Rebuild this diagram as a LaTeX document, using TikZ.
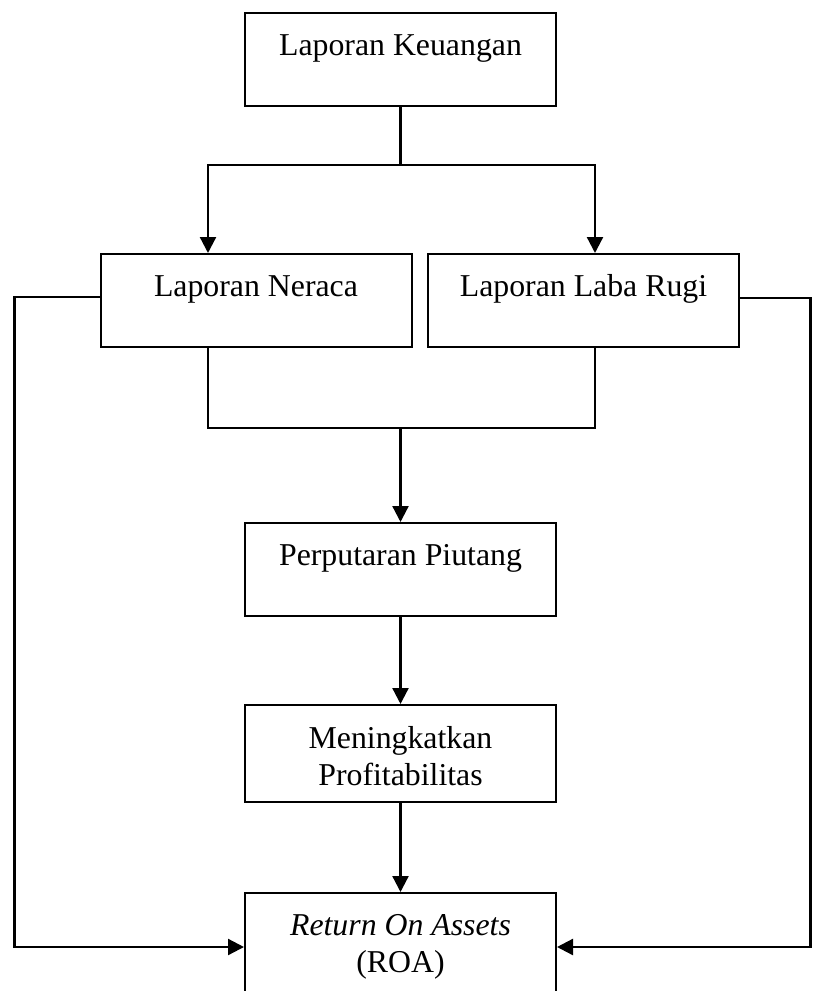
\documentclass[tikz,border=0pt]{standalone}
\usepackage{fontspec}
\setmainfont{Liberation Serif}
\usetikzlibrary{arrows.meta}
\begin{document}
\begin{tikzpicture}[x=1pt,y=-1pt,
  box/.style={draw, line width=2pt, minimum width=311pt, inner xsep=0pt, inner ysep=0pt,
    anchor=north, font=\fontsize{31.8}{37}\selectfont, text height=42pt, text depth=51pt},
  conn/.style={line width=2.3pt},
  arr/.style={conn, -{Triangle[length=16pt,width=16pt]}}
]
\useasboundingbox (0,0) rectangle (812,991);
\fill[white] (0,0) rectangle (812,991);
\clip (0,0) rectangle (812,991);

\node[box] (K) at (400.5,12) {Laporan Keuangan};
\node[box] (N) at (256,253) {Laporan Neraca};
\node[box] (L) at (583.5,253) {Laporan Laba Rugi};
\node[box] (P) at (400.5,522) {Perputaran Piutang};
\node[box, text height=43pt, text depth=54pt] (M) at (400.5,704)
  {\parbox[t]{300pt}{\centering Meningkatkan\\Profitabilitas}};
\node[box, text depth=130pt] (R) at (400.5,892)
  {\parbox[t]{300pt}{\centering\textit{Return On Assets}\\(ROA)}};

\coordinate (ksplit) at (400.5,165);
\coordinate (sl) at (208,165);
\coordinate (sr) at (595,165);
\draw[conn] (K.south) -- (ksplit);
\draw[arr] (ksplit) -- (sl) -- (sl |- N.north);
\draw[arr] (ksplit) -- (sr) -- (sr |- L.north);

\coordinate (bl) at (208,428);
\coordinate (br) at (595,428);
\coordinate (bm) at (400.5,428);
\draw[conn] (bl |- N.south) -- (bl) -- (br) -- (br |- L.south);
\draw[arr] (bm) -- (P.north);
\draw[arr] (P.south) -- (M.north);
\draw[arr] (M.south) -- (R.north);

\coordinate (lt) at (14.5,297);
\coordinate (lb) at (14.5,947);
\draw[arr] (lt -| N.west) -- (lt) -- (lb) -- (lb -| R.west);

\coordinate (rt) at (810.5,298);
\coordinate (rb) at (810.5,947);
\draw[arr] (rt -| L.east) -- (rt) -- (rb) -- (rb -| R.east);
\end{tikzpicture}
\end{document}
